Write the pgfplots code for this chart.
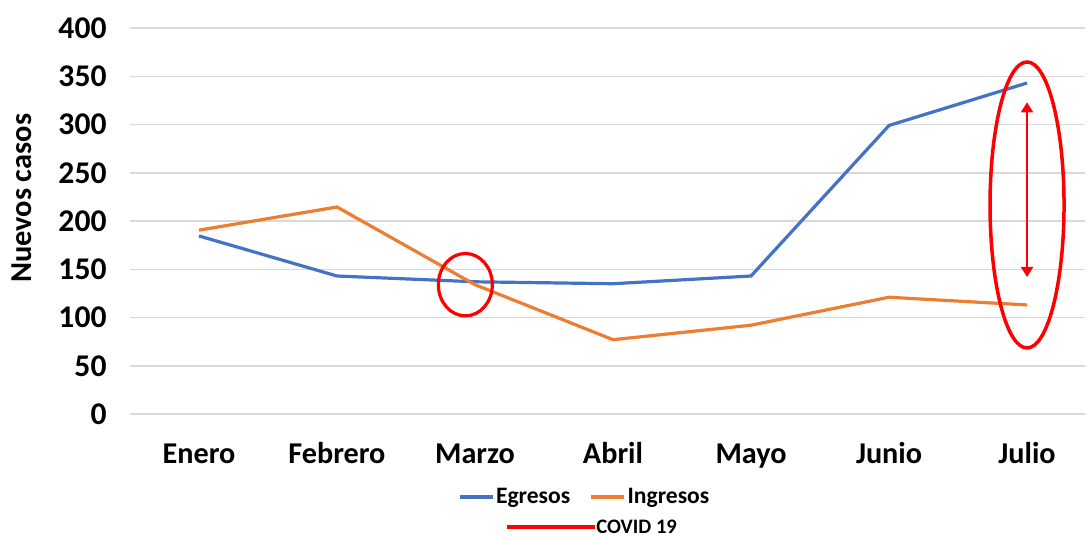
\documentclass[border=0pt]{standalone}
\usepackage{fontspec}
\setmainfont{Carlito}
\usepackage{pgfplots}
\pgfplotsset{compat=1.18}
\usetikzlibrary{arrows.meta}
\definecolor{egblue}{HTML}{4472C4}
\definecolor{inorange}{HTML}{ED7D31}
\definecolor{gridgray}{HTML}{D9D9D9}
\begin{document}
\begin{tikzpicture}
\useasboundingbox (-65pt,-61pt) rectangle (479.5pt,207pt);
\begin{axis}[
  scale only axis,
  width=477.5pt, height=193pt,
  xmin=-0.5, xmax=6.42,
  ymin=0, ymax=400,
  ytick={0,50,...,400},
  xtick={0,1,2,3,4,5,6},
  xticklabels={Enero,Febrero,Marzo,Abril,Mayo,Junio,Julio},
  axis line style={draw=none},
  major tick length=0pt,
  ymajorgrids,
  grid style={gridgray, line width=0.75pt},
  /pgf/number format/assume math mode=true,
  y tick label style={font=\fontsize{15.8}{18}\selectfont\bfseries, xshift=-8.2pt},
  x tick label style={font=\fontsize{15.1}{18}\selectfont\bfseries, anchor=base, yshift=-24.5pt},
  clip=false,
  legend style={draw=none, at={(rel axis cs:0.476,-0.215)}, anchor=center,
    font=\fontsize{11.8}{13}\selectfont\bfseries, legend columns=2,
    /tikz/every even column/.append style={column sep=9pt},
    inner sep=0pt, nodes={inner xsep=0.8pt, inner ysep=1pt}},
  legend image code/.code={\draw[#1] (0pt,0pt) -- (16.5pt,0pt);},
  legend cell align=left,
]
\addplot[egblue, line width=1.6pt] coordinates {
  (0,184.5) (1,143) (2,137) (3,135) (4,143) (5,299) (6,343)};
\addlegendentry{Egresos}
\addplot[inorange, line width=1.6pt] coordinates {
  (0,190.5) (1,214.5) (2,134) (3,77) (4,92) (5,121) (6,113)};
\addlegendentry{Ingresos}
\draw[red, line width=1.75pt] (axis cs:6,216.6) ellipse [x radius=18.5pt, y radius=71.5pt];
\draw[red, line width=1.6pt] (axis cs:1.93,134) ellipse [x radius=13.5pt, y radius=15.6pt];
\draw[red, line width=1pt, {Triangle[width=6pt,length=5pt]}-{Triangle[width=6pt,length=5pt]}] (axis cs:6,323) -- (axis cs:6,142);
\end{axis}
\draw[red, line width=1.75pt] (188.5pt,-56.5pt) -- (232.5pt,-56.5pt);
\node[anchor=west, inner sep=0pt, font=\fontsize{10.3}{12}\selectfont\bfseries] at (233pt,-56.5pt) {COVID 19};
\node[rotate=90, font=\fontsize{15.2}{17}\selectfont\bfseries] at (-54pt,107.8pt) {Nuevos casos};
\end{tikzpicture}
\end{document}
